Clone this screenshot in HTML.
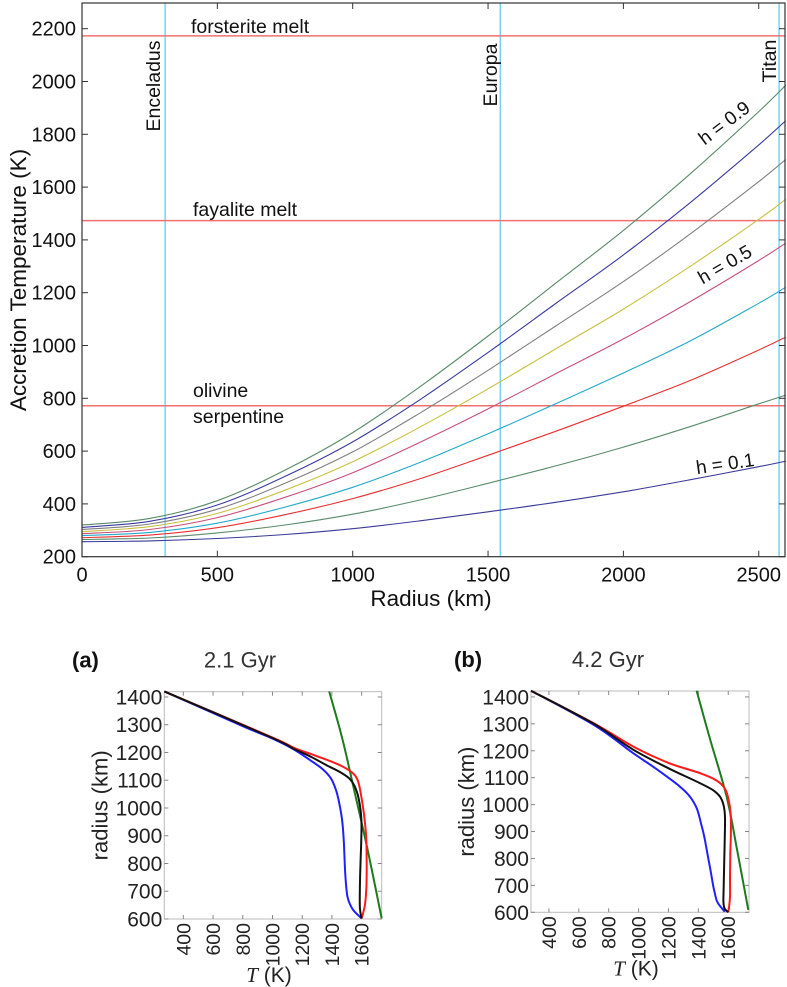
<!DOCTYPE html>
<html><head><meta charset="utf-8"><style>
html,body{margin:0;padding:0;background:#fff;}
svg{display:block;font-family:"Liberation Sans",Arial,sans-serif;}
</style></head><body>
<svg id="s" width="787" height="987" viewBox="0 0 787 987">
<g id="main"></g>
<g id="pa"></g>
<g id="pb"></g>
</svg>
<script>
// ---- Main chart data ----
const radii = [0,250,500,750,1000,1250,1500,1750,2000,2250,2500,2600];
const hLabels = ["0.1","0.2","0.3","0.4","0.5","0.6","0.7","0.8","0.9"];
const hColors = ["#3a3a9a","#5a8a6a","#e83030","#22a8cc","#c8507a","#c8c040","#808080","#3a3aa0","#5a8a6a"];
const t01 = [257,260,269,284,306,336,370,406,446,492,541,562];
const t02 = [265,271,290,320,361,415,478,544,615,694,779,812];
const t03 = [272,282,310,359,420,496,584,675,770,869,983,1032];
const t04 = [280,292,327,388,463,558,666,779,896,1019,1160,1221];
const t05 = [287,303,348,425,518,634,760,893,1025,1168,1322,1388];
const t06 = [295,314,364,452,560,692,836,987,1138,1302,1478,1554];
const t07 = [303,324,380,478,597,745,906,1074,1242,1425,1621,1705];
const t08 = [311,334,396,504,635,796,974,1159,1343,1544,1760,1852];
const t09 = [320,345,412,528,670,845,1036,1236,1436,1653,1886,1986];
const tSeries = [t01,t02,t03,t04,t05,t06,t07,t08,t09];
const meltTemps = [2173,1473,772];
const moonRadii = [307,1545,2575];
const moonNames = ["Enceladus","Europa","Titan"];
const xTicks = [0,500,1000,1500,2000,2500];
const yTicks = [200,400,600,800,1000,1200,1400,1600,1800,2000,2200];

// ---- Panel data (T in K, radius in km) ----
const rTicks = [600,700,800,900,1000,1100,1200,1300,1400];
const tTicks = [400,600,800,1000,1200,1400,1600];
const aBlueT = [272,804,1000,1140,1260,1342,1395,1430,1454,1470,1480,1490,1505,1540,1600];
const aBlueR = [1420,1294,1250,1212,1170,1138,1105,1060,1005,950,880,760,680,635,602];
const aRedT = [272,1000,1140,1260,1364,1470,1544,1575,1595,1615,1630,1634,1632,1622,1600];
const aRedR = [1420,1254,1218,1194,1174,1150,1124,1098,1050,980,900,800,717,650,602];
const aBlackT = [272,1000,1140,1260,1364,1460,1521,1560,1585,1598,1598,1592,1588,1588,1600];
const aBlackR = [1420,1252,1214,1184,1154,1128,1104,1070,1020,960,890,800,717,640,602];
const aGreenT = [1382,1470,1544,1640,1735];
const aGreenR = [1420,1250,1078,850,602];
const bBlueT = [280,700,964,1100,1187,1270,1343,1390,1418,1440,1460,1480,1499,1515,1530,1577];
const bBlueR = [1423,1296,1191,1140,1105,1070,1030,985,930,880,820,760,700,660,635,602];
const bBlackT = [280,700,964,1200,1410,1500,1544,1568,1578,1578,1574,1570,1568,1575,1600];
const bBlackR = [1423,1300,1204,1135,1080,1053,1030,1000,960,900,800,700,640,615,600];
const bRedT = [280,700,964,1200,1410,1520,1577,1602,1616,1618,1614,1612,1612,1606,1600];
const bRedR = [1423,1302,1216,1155,1117,1090,1060,1020,968,900,819,730,660,620,600];
const bGreenT = [1388,1480,1589,1660,1734];
const bGreenR = [1423,1240,1030,830,609];

const NS="http://www.w3.org/2000/svg";
function mk(parent,tag,attrs,text){const e=document.createElementNS(NS,tag);for(const k in attrs)e.setAttribute(k,attrs[k]);if(text!==undefined)e.textContent=text;parent.appendChild(e);return e;}
function smooth(pts){let d="M"+pts[0][0].toFixed(1)+","+pts[0][1].toFixed(1);for(let i=0;i<pts.length-1;i++){const p0=pts[i-1]||pts[i],p1=pts[i],p2=pts[i+1],p3=pts[i+2]||p2;const c1=[p1[0]+(p2[0]-p0[0])/6,p1[1]+(p2[1]-p0[1])/6],c2=[p2[0]-(p3[0]-p1[0])/6,p2[1]-(p3[1]-p1[1])/6];d+=" C"+c1[0].toFixed(1)+","+c1[1].toFixed(1)+" "+c2[0].toFixed(1)+","+c2[1].toFixed(1)+" "+p2[0].toFixed(1)+","+p2[1].toFixed(1);}return d;}

// ---- Main chart ----
const M=document.getElementById('main');
const L=82,R=785,T=3,B=556.7;
const X=r=>L+r*0.2707;
const Y=t=>B-(t-200)*0.264;
mk(M,'rect',{x:L,y:T,width:R-L,height:B-T,fill:'#fff',stroke:'none'});
moonRadii.forEach((r,i)=>{
  const ln=mk(M,'line',{x1:X(r),x2:X(r),y1:T,y2:B,stroke:'#5bc8ea','stroke-width':1.2});
  
  
});
const meltNames=["forsterite-melt-line","fayalite-melt-line","olivine-serpentine-line"];
meltTemps.forEach((t,i)=>{
  const ln=mk(M,'line',{x1:L,x2:R,y1:Y(t),y2:Y(t),stroke:'#f07070','stroke-width':1.5});
  
  
});
tSeries.forEach((s,i)=>{
  const pts=s.map((t,j)=>[X(radii[j]),Y(t)]);
  const p=mk(M,'path',{d:smooth(pts),fill:'none',stroke:hColors[i],'stroke-width':1.1});
  
  
});
mk(M,'rect',{x:L,y:T,width:R-L,height:B-T,fill:'none',stroke:'#333','stroke-width':1.2,});
xTicks.forEach(v=>{
  mk(M,'line',{x1:X(v),x2:X(v),y1:B,y2:B-6,stroke:'#333'});
  mk(M,'line',{x1:X(v),x2:X(v),y1:T,y2:T+6,stroke:'#333'});
  const t=mk(M,'text',{x:X(v),y:B+25,'font-size':20,'text-anchor':'middle',fill:'#111'},String(v));
  
  
});
yTicks.forEach(v=>{
  mk(M,'line',{x1:L,x2:L+6,y1:Y(v),y2:Y(v),stroke:'#333'});
  mk(M,'line',{x1:R,x2:R-6,y1:Y(v),y2:Y(v),stroke:'#333'});
  const t=mk(M,'text',{x:L-6,y:Y(v)+7,'font-size':20,'text-anchor':'end',fill:'#111'},String(v));
  
  
});
mk(M,'text',{x:431,y:606,'font-size':22.5,'text-anchor':'middle',fill:'#111',},'Radius (km)');
mk(M,'text',{x:0,y:0,'font-size':22.5,'text-anchor':'middle',fill:'#111',transform:'translate(26,280) rotate(-90)',},'Accretion Temperature (K)');
mk(M,'text',{x:191,y:33,'font-size':19.5,fill:'#111',},'forsterite melt');
mk(M,'text',{x:193,y:216,'font-size':19.5,fill:'#111',},'fayalite melt');
mk(M,'text',{x:193,y:397,'font-size':19.5,fill:'#111',},'olivine');
mk(M,'text',{x:193,y:423,'font-size':19.5,fill:'#111',},'serpentine');
mk(M,'text',{x:0,y:0,'font-size':19.5,'text-anchor':'middle',fill:'#111',transform:'translate(160,86) rotate(-90)',},'Enceladus');
mk(M,'text',{x:0,y:0,'font-size':19.5,'text-anchor':'middle',fill:'#111',transform:'translate(497,75) rotate(-90)',},'Europa');
mk(M,'text',{x:0,y:0,'font-size':19.5,'text-anchor':'middle',fill:'#111',transform:'translate(776,61) rotate(-90)',},'Titan');
mk(M,'text',{x:0,y:0,'font-size':19,'text-anchor':'middle',fill:'#111',transform:'translate(728,128) rotate(-37)',},'h = 0.9');
mk(M,'text',{x:0,y:0,'font-size':19,'text-anchor':'middle',fill:'#111',transform:'translate(728,270) rotate(-30)',},'h = 0.5');
mk(M,'text',{x:0,y:0,'font-size':19,'text-anchor':'middle',fill:'#111',transform:'translate(726,470) rotate(-8)',},'h = 0.1');

// ---- Panels ----
function panel(G,cfg,series){
  const {l,r,t,b,tMin,tMax,rMin,rMax,letter,title,lx,tx}=cfg;
  const PX=v=>l+(v-tMin)/(tMax-tMin)*(r-l);
  const PY=v=>b-(v-rMin)/(rMax-rMin)*(b-t);
  mk(G,'rect',{x:l,y:t,width:r-l,height:b-t,fill:'#fff',stroke:'#bbb','stroke-width':1,});
  rTicks.forEach(v=>{
    mk(G,'line',{x1:l,x2:l+4,y1:PY(v),y2:PY(v),stroke:'#888'});
    mk(G,'line',{x1:r,x2:r-4,y1:PY(v),y2:PY(v),stroke:'#888'});
    const tx2=mk(G,'text',{x:l-2,y:PY(v)+7.5,'font-size':21,'text-anchor':'end',fill:'#222'},String(v));
    
    
  });
  tTicks.forEach(v=>{
    mk(G,'line',{x1:PX(v),x2:PX(v),y1:b,y2:b-4,stroke:'#888'});
    mk(G,'line',{x1:PX(v),x2:PX(v),y1:t,y2:t+4,stroke:'#888'});
    const tx2=mk(G,'text',{x:0,y:0,'font-size':19.5,'text-anchor':'end',fill:'#222',transform:'translate('+(PX(v)+7)+','+(b+4)+') rotate(-90)'},String(v));
    
    
  });
  series.forEach(s=>{
    const pts=s.T.map((v,i)=>[PX(v),PY(s.R[i])]);
    const p=mk(G,'path',{d:smooth(pts),fill:'none',stroke:s.c,'stroke-width':2});
    
    
  });
  mk(G,'text',{x:lx,y:t-24,'font-size':22,'font-weight':'bold',fill:'#111',},letter);
  mk(G,'text',{x:tx,y:t-24,'font-size':22,'text-anchor':'middle',fill:'#333',},title);
  mk(G,'text',{x:0,y:0,'font-size':22,'text-anchor':'middle',fill:'#222',transform:'translate('+(l-57)+','+((t+b)/2)+') rotate(-90)',},'radius (km)');
  const xt=mk(G,'text',{x:(l+r)/2-4,y:b+63,'font-size':21,'text-anchor':'middle',fill:'#222',});
  mk(xt,'tspan',{'font-style':'italic','font-family':'Liberation Serif, serif'},'T');
  mk(xt,'tspan',{},' (K)');
}
panel(document.getElementById('pa'),{l:164.3,r:381.7,t:691.7,b:919,tMin:272,tMax:1735,rMin:600,rMax:1419,letter:'(a)',title:'2.1 Gyr',lx:72,tx:240},
  [{T:aGreenT,R:aGreenR,c:'#1e7a1e',n:'panel-a-green-curve'},{T:aBlueT,R:aBlueR,c:'#1f1fff',n:'panel-a-blue-curve'},{T:aRedT,R:aRedR,c:'#ff1a1a',n:'panel-a-red-curve'},{T:aBlackT,R:aBlackR,c:'#111',n:'panel-a-black-curve'}]);
panel(document.getElementById('pb'),{l:531,r:749,t:691,b:912.3,tMin:280,tMax:1739,rMin:600,rMax:1422,letter:'(b)',title:'4.2 Gyr',lx:454,tx:608},
  [{T:bGreenT,R:bGreenR,c:'#1e7a1e',n:'panel-b-green-curve'},{T:bBlueT,R:bBlueR,c:'#1f1fff',n:'panel-b-blue-curve'},{T:bRedT,R:bRedR,c:'#ff1a1a',n:'panel-b-red-curve'},{T:bBlackT,R:bBlackR,c:'#111',n:'panel-b-black-curve'}]);
</script>
</body></html>
